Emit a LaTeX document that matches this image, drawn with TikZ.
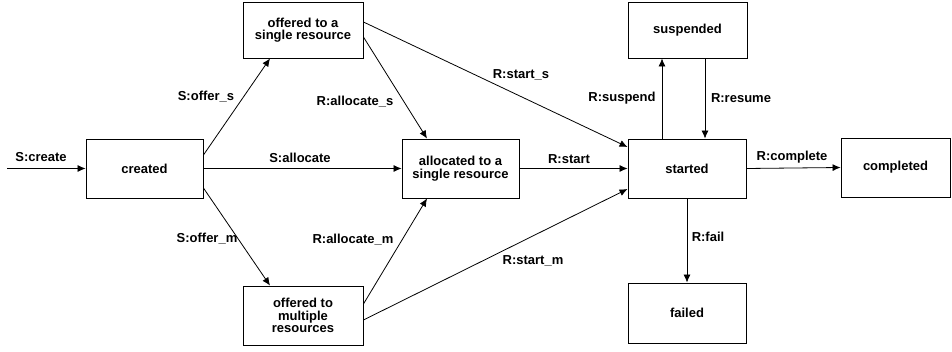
\documentclass[tikz,border=0pt]{standalone}
\usepackage{fontspec}
\setmainfont{Liberation Sans}
\usetikzlibrary{arrows.meta}
\begin{document}
\begin{tikzpicture}[x=1pt,y=-1pt,
  state/.style={draw, line width=0.9pt, inner sep=0pt, align=center,
    font=\bfseries\fontsize{13}{12.5}\selectfont},
  lbl/.style={inner sep=0pt, font=\bfseries\fontsize{13}{13}\selectfont},
  conn/.style={line width=0.8pt, -{Latex[length=8pt,width=7pt]}}]
\useasboundingbox (0,0) rectangle (952,352);
% states
\node[state, minimum width=117pt, minimum height=59pt] (created) at (144.5,168.5) {created};
\node[state, minimum width=120pt, minimum height=56pt] (offs) at (303,30) {offered to a\\single resource};
\node[state, minimum width=120pt, minimum height=59pt] (offm) at (303,315.5) {offered to\\multiple\\resources};
\node[state, minimum width=117pt, minimum height=59pt] (alloc) at (460.5,168.5) {allocated to a\\single resource};
\node[state, minimum width=118pt, minimum height=59pt] (started) at (687,168.5) {started};
\node[state, minimum width=119pt, minimum height=56pt] (susp) at (687.5,30) {suspended};
\node[state, minimum width=109pt, minimum height=59pt] (compl) at (895.5,167.5) {completed};
\node[state, minimum width=118pt, minimum height=60pt] (failed) at (687,313) {failed};
\coordinate (in) at (7,168.5);
% connectors
\draw[conn] (in) -- (created.west);
\draw[conn] ([yshift=13.5pt]created.east) -- ([xshift=-33pt]offs.south);
\draw[conn] (created.east) -- (alloc.west);
\draw[conn] ([yshift=-19.5pt]created.east) -- ([xshift=-33pt]offm.north);
\draw[conn] ([yshift=-7pt]offs.east) -- ([xshift=-33.5pt]alloc.north);
\draw[conn] ([yshift=11.5pt]offm.east) -- ([xshift=-33.5pt]alloc.south);
\draw[conn] ([yshift=8pt]offs.east) -- ([yshift=21.5pt]started.west);
\draw[conn] (alloc.east) -- (started.west);
\draw[conn] ([yshift=-4.5pt]offm.east) -- ([yshift=-20.5pt]started.west);
\draw[conn] ([xshift=-25pt]started.north) -- ([xshift=-25.5pt]susp.south);
\draw[conn] ([xshift=17.5pt]susp.south) -- ([xshift=18pt]started.north);
\draw[conn] (started.east) -- (compl.west);
\draw[conn] (started.south) -- (failed.north);
% labels
\node[lbl] (l1) at (41,157) {S:create};
\node[lbl] (l2) at (206,97) {S:offer\_s};
\node[lbl] (l3) at (300,158) {S:allocate};
\node[lbl] (l4) at (207,239) {S:offer\_m};
\node[lbl] (l5) at (355,102) {R:allocate\_s};
\node[lbl] (l6) at (353,240) {R:allocate\_m};
\node[lbl] (l7) at (521,75) {R:start\_s};
\node[lbl] (l8) at (569,159) {R:start};
\node[lbl] (l9) at (533,261) {R:start\_m};
\node[lbl] (l10) at (622,98) {R:suspend};
\node[lbl] (l11) at (741,98) {R:resume};
\node[lbl] (l12) at (792,157) {R:complete};
\node[lbl] (l13) at (708,237) {R:fail};
\end{tikzpicture}
\end{document}
